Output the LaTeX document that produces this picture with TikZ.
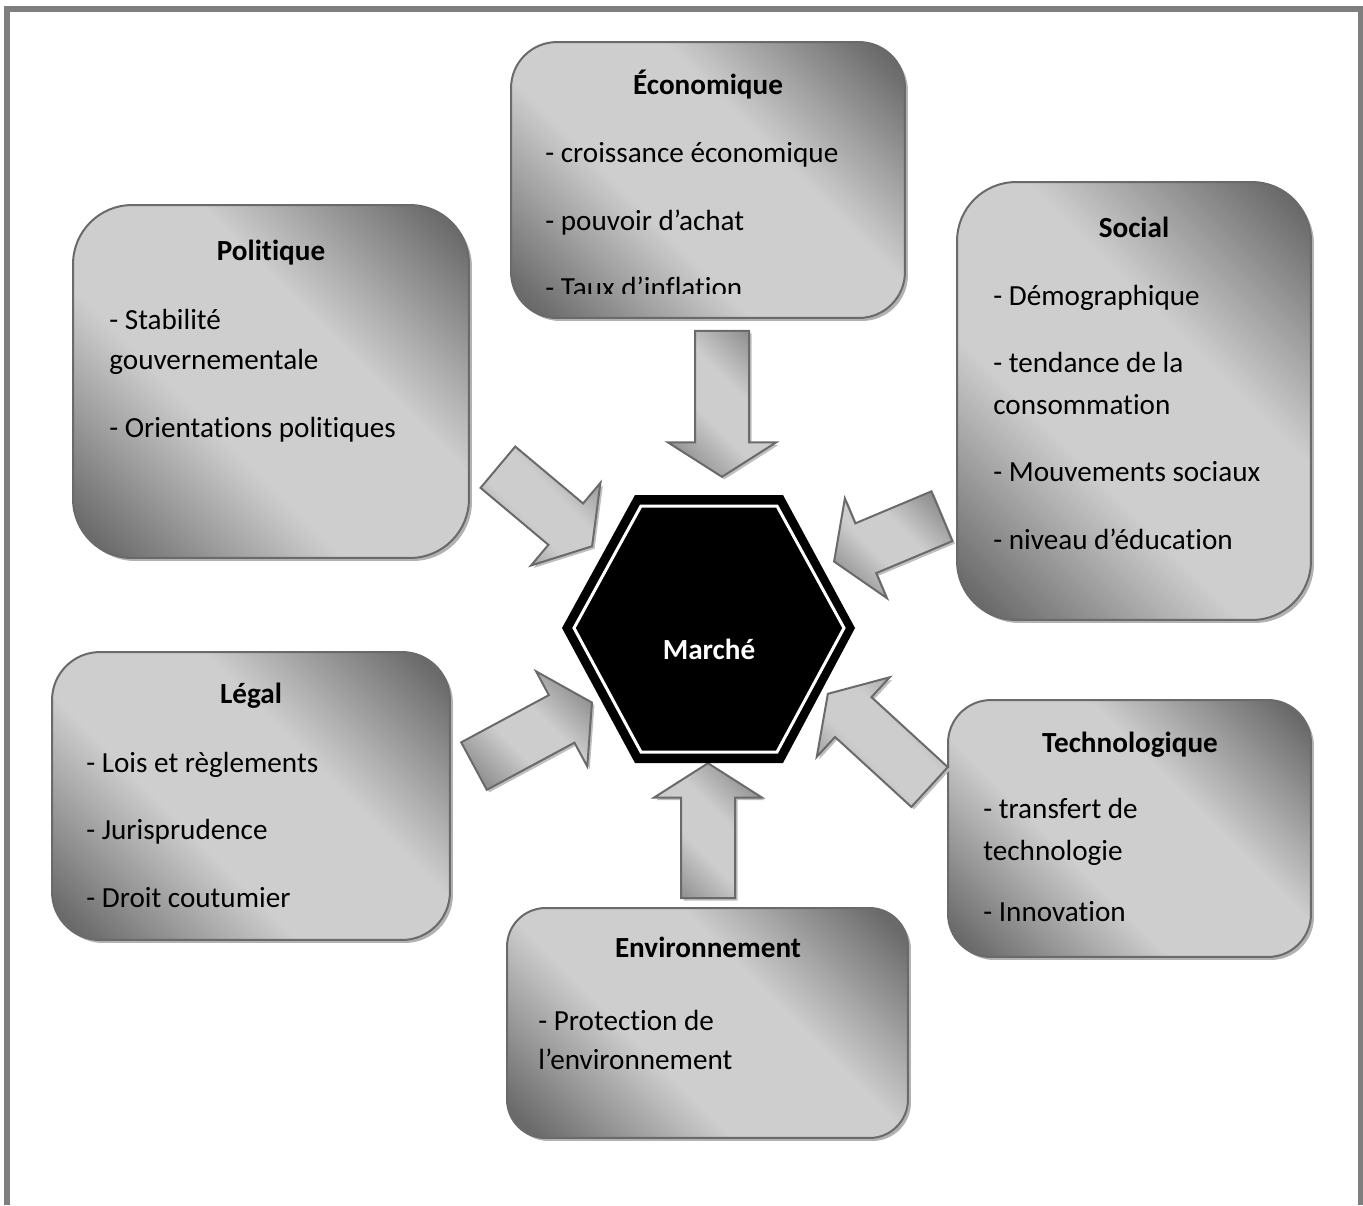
\documentclass[tikz,border=0pt]{standalone}
\usepackage{fontspec}
\setmainfont{Carlito}[Ligatures=NoCommon]
\usetikzlibrary{shapes.arrows,shadows}

\definecolor{rim}{HTML}{6A6A6A}
\definecolor{framegray}{HTML}{7F7F7F}
\definecolor{shdark}{HTML}{6A6A6A}
\definecolor{shlight}{HTML}{CECECE}
\definecolor{ardark}{HTML}{8E8E8E}
\definecolor{arlight}{HTML}{CDCDCD}

\pgfdeclareverticalshading{boxshade}{100bp}{color(0bp)=(shdark); color(18bp)=(shdark); color(40bp)=(shlight); color(60bp)=(shlight); color(82bp)=(shdark); color(100bp)=(shdark)}
\pgfdeclareverticalshading{arrowshade}{100bp}{color(0bp)=(ardark); color(22bp)=(ardark); color(42bp)=(arlight); color(58bp)=(arlight); color(78bp)=(ardark); color(100bp)=(ardark)}

\newcommand\boxfont{\fontsize{16.6}{20}\selectfont}

\begin{document}
\begin{tikzpicture}[x=0.02cm, y=-0.02cm,
    panel/.style={draw=rim, line width=0.04cm, rounded corners=#1,
      shading=boxshade, shading angle=-45,
      drop shadow={shadow xshift=0.06cm, shadow yshift=-0.06cm, fill=black!30, opacity=1}},
    bigarrow/.style={single arrow, draw=rim, line width=0.04cm, inner xsep=0pt, inner ysep=0.52cm,
      minimum width=2.12cm, single arrow head extend=0.54cm, single arrow tip angle=115,
      shading=arrowshade, shading angle=-45, anchor=tip,
      drop shadow={shadow xshift=0.05cm, shadow yshift=-0.05cm, fill=black!25, opacity=1}},
    ttl/.style={anchor=base, inner sep=0pt, font=\boxfont\bfseries},
    lineitem/.style={anchor=base west, inner sep=0pt, font=\boxfont}]

  \useasboundingbox (0,0) rectangle (1363,1205);

  % cadre
  \draw[framegray, line width=0.12cm] (7,1205) -- (7,9) -- (1361,9) -- (1361,1205);

  % les six boites
  \node[panel=1.18cm, minimum width=7.92cm, minimum height=7.06cm] (pol) at (271,381.5) {};
  \node[panel=0.92cm, minimum width=7.88cm, minimum height=5.52cm] (eco) at (708,180) {};
  \node[panel=1.18cm, minimum width=7.08cm, minimum height=8.76cm] (soc) at (1134,401) {};
  \node[panel=0.96cm, minimum width=7.96cm, minimum height=5.76cm] (leg) at (251,796) {};
  \node[panel=0.86cm, minimum width=7.26cm, minimum height=5.14cm] (tec) at (1129.5,828.5) {};
  \node[panel=0.77cm, minimum width=8.02cm, minimum height=4.60cm] (env) at (707.5,1023) {};

  % textes
  \node[ttl] (pol-t) at (271,260) {Politique};
  \foreach \t/\y [count=\i] in {{- Stabilité}/329, gouvernementale/369, {- Orientations politiques}/437}
    \node[lineitem] (pol-\i) at (109,\y) {\t};

  \node[ttl] (eco-t) at (708,94) {Économique};
  \begin{scope}
    \clip (511,42) rectangle (905,293);
    \foreach \t/\y [count=\i] in {{- croissance économique}/162, {- pouvoir d’achat}/230, {- Taux d’inflation}/297}
      \node[lineitem] (eco-\i) at (545,\y) {\t};
  \end{scope}

  \node[ttl] (soc-t) at (1134,237) {Social};
  \foreach \t/\y [count=\i] in {{- Démographique}/305, {- tendance de la}/372, consommation/414,
      {- Mouvements sociaux}/481, {- niveau d’éducation}/549}
    \node[lineitem] (soc-\i) at (993,\y) {\t};

  \node[ttl] (leg-t) at (251,703) {Légal};
  \foreach \t/\y [count=\i] in {{- Lois et règlements}/772, {- Jurisprudence}/839, {- Droit coutumier}/907}
    \node[lineitem] (leg-\i) at (86,\y) {\t};

  \node[ttl] (tec-t) at (1130,752) {Technologique};
  \foreach \t/\y [count=\i] in {{- transfert de}/818, technologie/860, {- Innovation}/921}
    \node[lineitem] (tec-\i) at (983,\y) {\t};

  \node[ttl] (env-t) at (708,957) {Environnement};
  \foreach \t/\y [count=\i] in {{- Protection de}/1030, l’environnement/1069}
    \node[lineitem] (env-\i) at (538,\y) {\t};

  % fleches
  \node[bigarrow, rotate=-90, minimum height=2.92cm] (a-eco) at (722,478) {};
  \node[bigarrow, rotate=-40, minimum height=2.46cm] (a-pol) at (593,547) {};
  \node[bigarrow, rotate=202.8, minimum height=2.34cm] (a-soc) at (833,562) {};
  \node[bigarrow, rotate=28.3, minimum height=2.68cm] (a-leg) at (593,702) {};
  \node[bigarrow, rotate=137.5, minimum height=2.76cm] (a-tec) at (827,693) {};
  \node[bigarrow, rotate=90, minimum height=2.70cm] (a-env) at (708,762) {};

  % hexagone
  \fill (562,628) -- (635,495) -- (783,495) -- (855,628) -- (783,763) -- (635,763) -- cycle;
  \draw[white, line width=0.06cm] (574,628) -- (641,506) -- (777,506) -- (844,628) -- (777,752) -- (641,752) -- cycle;
  \node[ttl, text=white] (mkt) at (709,659) {Marché};

\end{tikzpicture}
\end{document}
